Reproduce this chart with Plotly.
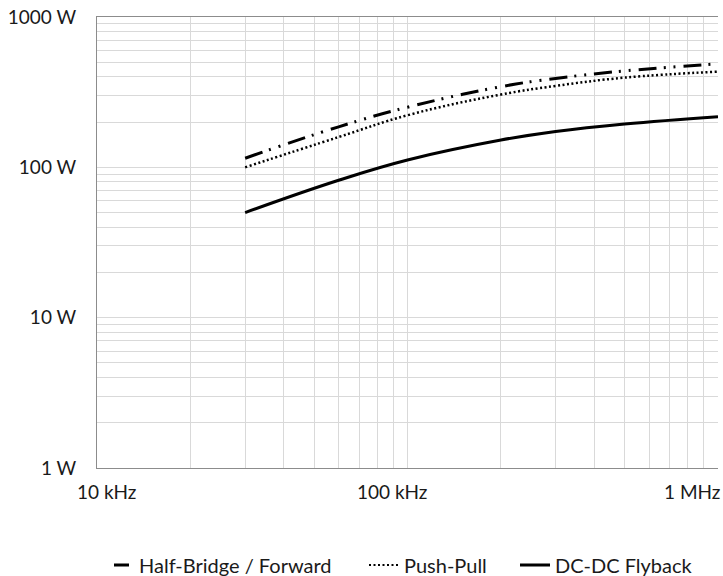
import math
import plotly.graph_objects as go

# ---- data ----
freq_hz = [30000, 60000, 100000, 200000, 300000, 500000, 1000000]
half_bridge_w = [115, 186, 251, 344, 390, 438, 488]
push_pull_w = [100, 159, 222, 305, 348, 395, 433]
flyback_w = [50, 82, 112, 152, 173, 194, 217]

series_names = ["Half-Bridge / Forward", "Push-Pull", "DC-DC Flyback"]

x_label_vals = [10000, 100000, 1000000]
x_label_text = ["10 kHz", "100 kHz", "1 MHz"]
y_label_vals = [1, 10, 100, 1000]
y_label_text = ["1 W", "10 W", "100 W", "1000 W"]

# grid positions (1..9 x decade)
x_grid = [m * 10 ** e for e in range(4, 6) for m in range(1, 10)] + [1000000]
y_grid = [m * 10 ** e for e in range(0, 3) for m in range(1, 10)] + [1000]
y_grid_text = [y_label_text[y_label_vals.index(v)] if v in y_label_vals else "" for v in y_grid]

FONT = "Lato"
FS = 19
LFS = 20
TXT = "#1a1a1a"
W, H = 723, 576
L, R, T, B = 97, 5, 17, 108
pw = W - L - R
ph = H - T - B

fig = go.Figure()
line_styles = [
    dict(color="black", width=3, dash="18px,7px,2px,8px,2px,8px"),
    dict(color="black", width=2.5, dash="2px,2.5px"),
    dict(color="black", width=3, dash="solid"),
]
legend_styles = [
    dict(color="black", width=3, dash="0px,10px,15px,6px,2px,40px"),
    dict(color="black", width=2, dash="2px,2.5px"),
    dict(color="black", width=3, dash="solid"),
]
datas = [half_bridge_w, push_pull_w, flyback_w]
legend_ids = ["legend", "legend2", "legend3"]
legend_text_px = [139, 404, 555]   # left edge of legend text

for name, ys, st, lst, lid in zip(series_names, datas, line_styles, legend_styles, legend_ids):
    fig.add_trace(go.Scatter(
        x=freq_hz, y=ys, mode="lines", name=name,
        line=dict(shape="spline", smoothing=1.2, **st),
        showlegend=False, hoverinfo="skip",
    ))
    # legend-only entry with the sample pattern seen in the reference legend
    fig.add_trace(go.Scatter(
        x=[None], y=[None], mode="lines", name=name,
        line=dict(**lst), legend=lid, showlegend=True, hoverinfo="skip",
    ))

leg_common = dict(orientation="h", yanchor="middle", xanchor="left",
                  font=dict(family=FONT, size=LFS, color=TXT),
                  bgcolor="rgba(0,0,0,0)", itemwidth=30)
leg_y = (H - B - 565) / ph
layout_legends = {}
for lid, px in zip(legend_ids, legend_text_px):
    layout_legends[lid] = dict(leg_common, x=(px - 40 - L) / pw, y=leg_y)

annotations = []
x_shifts = [9, -16, -26]
for v, t, s in zip(x_label_vals, x_label_text, x_shifts):
    annotations.append(dict(
        x=math.log10(v), y=0, xref="x", yref="paper", text=t, showarrow=False,
        xshift=s, yshift=-23, yanchor="middle", xanchor="center",
        font=dict(family=FONT, size=FS, color=TXT),
    ))

fig.update_layout(
    width=W, height=H,
    margin=dict(l=L, r=R, t=T, b=B, autoexpand=False),
    paper_bgcolor="white", plot_bgcolor="white",
    showlegend=True,
    annotations=annotations,
    **layout_legends,
)
fig.update_xaxes(
    type="log", range=[4, 6], tickvals=x_grid, ticktext=[""] * len(x_grid),
    showgrid=True, gridcolor="#d9d9d9", gridwidth=1,
    showline=True, linecolor="#8c8c8c", linewidth=1, mirror=True,
    ticks="", zeroline=False, automargin=False,
)
fig.update_yaxes(
    type="log", range=[0, 3], tickvals=y_grid, ticktext=y_grid_text,
    showgrid=True, gridcolor="#d9d9d9", gridwidth=1,
    showline=True, linecolor="#8c8c8c", linewidth=1,
    ticks="", ticklabelstandoff=16, zeroline=False, automargin=False,
    tickfont=dict(family=FONT, size=FS, color=TXT),
)

fig.write_html("out.html",
               config={"displayModeBar": False},
               post_script="document.body.style.margin='0px';document.body.style.overflow='hidden';")
